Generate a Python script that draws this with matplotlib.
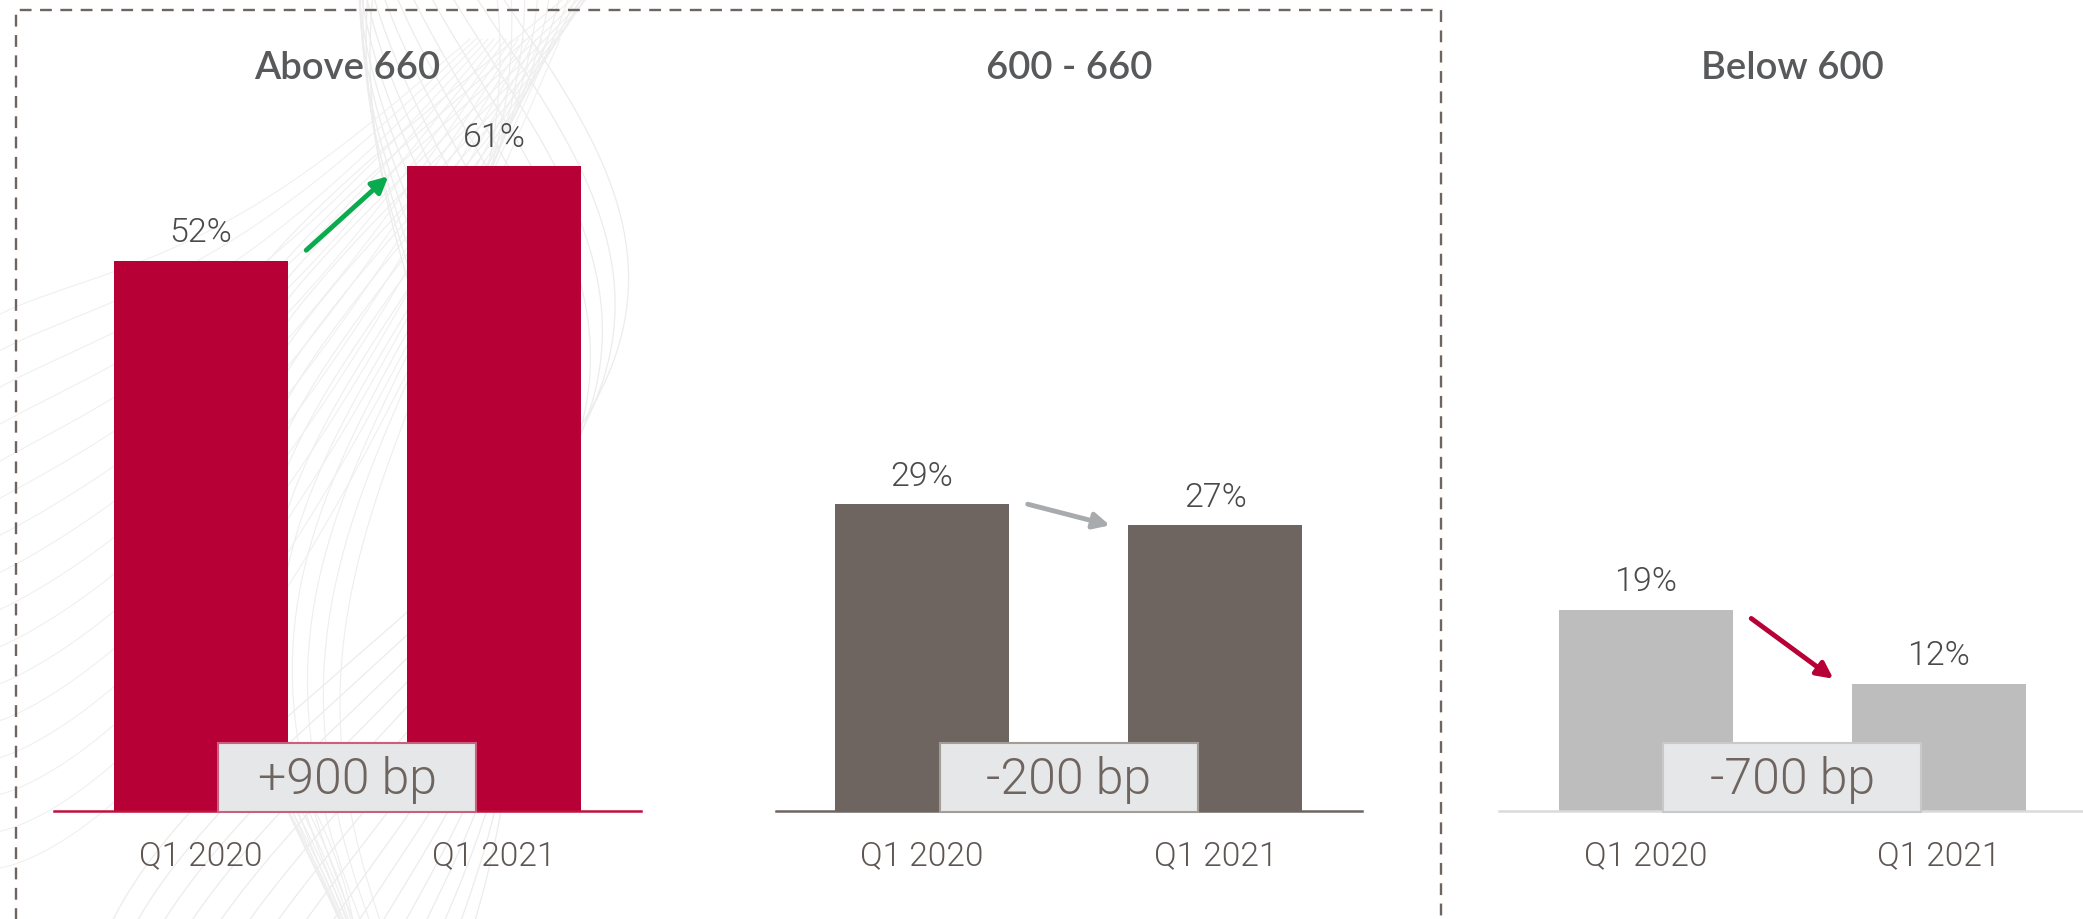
import numpy as np
import matplotlib
matplotlib.use('Agg')
import matplotlib.pyplot as plt
from matplotlib.patches import Rectangle
from matplotlib.lines import Line2D

# ---------------- data ----------------
categories = ['Q1 2020', 'Q1 2021']
segments = ['Above 660', '600 - 660', 'Below 600']
values_above_660 = [52, 61]
values_600_660 = [29, 27]
values_below_600 = [19, 12]
change_labels = ['+900 bp', '-200 bp', '-700 bp']

# ---------------- style ----------------
bar_colors = ['#B70035', '#6F6560', '#BDBDBD']
base_colors = ['#C0103F', '#6F6560', '#DADADA']
box_edges = ['#C8607E', '#A39D98', '#C9C9C9']
arrow_colors = ['#0AAA4E', '#A7ABAD', '#B70035']
arrow_offsets = [(1.0, -1.0), (0.0, 0.0), (-0.8, 0.5)]
title_color = '#58595B'
label_color = '#4A4A4A'
cat_color = '#5E5653'
bp_color = '#6F6560'

W, H = 2083, 920
fig = plt.figure(figsize=(W / 100, H / 100), dpi=100)
fig.patch.set_facecolor('white')

LIGHT = ['Roboto', 'Lato', 'DejaVu Sans']
LW = 300

# ---------------- decorative background ----------------
bg = fig.add_axes([0, 0, 1, 1], zorder=0)
bg.set_xlim(0, W)
bg.set_ylim(H, 0)
bg.axis('off')
yy = np.linspace(-60, H + 60, 500)
for i in range(16):
    amp = 70 + 8.0 * i
    ph = i * 0.12
    xx = 440 + amp * np.sin(2 * np.pi * (yy - 380) / 1300 + ph) - 0.25 * (yy - 300) * (i / 16)
    bg.plot(xx, yy, color='#ECECEC', lw=0.9)
for i in range(16):
    amp = 80 + 7.0 * i
    ph = np.pi + i * 0.10
    xx = 420 + amp * np.sin(2 * np.pi * (yy - 380) / 1300 + ph) - 0.35 * (yy - 250) * (i / 16)
    bg.plot(xx, yy, color='#EEEEEE', lw=0.8)
tt = np.linspace(0, 1, 300)
for i in range(16):
    x0, y0 = -20, 330 + 36 * i
    x1, y1 = 470 + 6 * i, 40
    xs = x0 + (x1 - x0) * tt
    ys = y0 + (y1 - y0) * tt ** (0.8 + 0.04 * i) + 60 * np.sin(np.pi * tt)
    bg.plot(xs, ys, color='#F0F0F0', lw=0.8)

# dashed frame
frame = Line2D([16, 16, 1441, 1441], [H + 10, 11, 11, H + 10], color='#6F6560',
               lw=1.7, linestyle=(0, (5, 3.6)), transform=bg.transData)
bg.add_line(frame)

# ---------------- panels ----------------
panel_values = [values_above_660, values_600_660, values_below_600]
unit_px = 293.3
axes_left_px = [54, 775.5, 1499]
base_px = 812
px_per_pct = 10.58
ymax = 70
ax_h_px = ymax * px_per_pct
bar_w = 0.593

for k in range(3):
    vals = panel_values[k]
    left = axes_left_px[k] / W
    width = 2 * unit_px / W
    bottom = (H - base_px) / H
    ax = fig.add_axes([left, bottom, width, ax_h_px / H], zorder=2)
    ax.patch.set_alpha(0)
    ax.set_xlim(-0.5, 1.5)
    ax.set_ylim(0, ymax)
    x = np.arange(len(categories))
    ax.bar(x, vals, width=bar_w, color=bar_colors[k], zorder=2)
    for s in ['top', 'right', 'left']:
        ax.spines[s].set_visible(False)
    ax.spines['bottom'].set_color(base_colors[k])
    ax.spines['bottom'].set_linewidth(1.8)
    ax.set_yticks([])
    ax.set_xticks(x)
    ax.set_xticklabels(categories, fontsize=24, color=cat_color,
                       family=LIGHT, fontweight=LW)
    ax.tick_params(axis='x', length=0, pad=20)

    for xi, v in zip(x, vals):
        ax.text(xi, v + 2.7, f'{v}%', ha='center', va='center', fontsize=24.5,
                color=label_color, family=LIGHT, fontweight=LW)

    ax.text(0.5, 70.3, segments[k], ha='center', va='center', fontsize=27.5,
            color=title_color, family=['Lato', 'DejaVu Sans'], fontweight='semibold',
            clip_on=False)

    # change box
    rect = Rectangle((0.5 - 0.44, -0.1), 0.88, 6.5, facecolor='#E6E7E8',
                     edgecolor=box_edges[k], lw=1.5, zorder=4, clip_on=False)
    ax.add_patch(rect)
    ax.text(0.5, 3.0, change_labels[k], ha='center', va='center', fontsize=36,
            color=bp_color, family=LIGHT, fontweight=LW, zorder=5)

    # arrow
    d1, d2 = arrow_offsets[k]
    ax.annotate('', xy=(0.64, vals[1] + d2), xytext=(0.36, vals[0] + d1),
                arrowprops=dict(arrowstyle='-|>', color=arrow_colors[k], lw=3.5,
                                mutation_scale=24, shrinkA=0, shrinkB=0),
                zorder=5)

fig.savefig('out.png', dpi=100, facecolor='white')
